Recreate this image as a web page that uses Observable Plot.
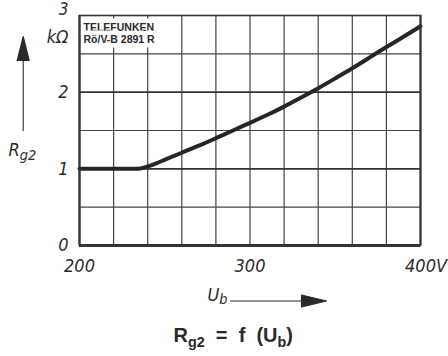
<!DOCTYPE html>
<html>
<head>
<meta charset="utf-8">
<script src="https://cdn.jsdelivr.net/npm/d3@7"></script>
<script src="https://cdn.jsdelivr.net/npm/@observablehq/plot@0.6"></script>
<style>
  html, body { margin: 0; padding: 0; background: #fff; }
  #chart { width: 448px; height: 356px; }
</style>
</head>
<body>
<div id="chart"></div>
<script>
// ---- data ----
const ub = [200, 220, 230, 236, 240, 245, 250, 260, 270, 280, 290, 300, 310, 320, 330, 340, 350, 360, 370, 380, 390, 400];
const rg2 = [1.0, 1.0, 1.0, 1.0, 1.03, 1.07, 1.12, 1.21, 1.30, 1.40, 1.50, 1.60, 1.70, 1.81, 1.93, 2.05, 2.18, 2.31, 2.45, 2.59, 2.72, 2.86];
const xTicks = [200, 300, 400];
const yTicks = [0, 1, 2];
const yTop = [3];
const gridX = [220, 240, 260, 280, 300, 320, 340, 360, 380];
const gridYMinor = [0.5, 1.5, 2.5];
const gridYMajor = [1, 2];
const yUnit = "kΩ";
const xUnit = "V";
const maker = "TELEFUNKEN\nRö/V-B 2891 R";
const yLabel = "R_{g2}";
const xLabel = "U_{b}";
const caption = "R_{g2}  =  f  (U_{b})";

const data = ub.map((u, i) => ({u, r: rg2[i]}));

const narrow = "'Liberation Sans Narrow', 'DejaVu Sans Condensed', 'Liberation Sans', sans-serif";
const ink = "#2a2a2a";

// filled-head arrow shape for Plot.vector
const filledArrow = (hl, hw) => ({
  draw(ctx, l) {
    ctx.moveTo(0, 0);
    ctx.lineTo(0, -l + hl);
    ctx.moveTo(-hw / 2, -l + hl);
    ctx.lineTo(0, -l);
    ctx.lineTo(hw / 2, -l + hl);
    ctx.closePath();
  }
});

const chart = Plot.plot({
  width: 448,
  height: 356,
  marginLeft: 79,
  marginRight: 28,
  marginTop: 15,
  marginBottom: 111,
  x: {domain: [200, 400], axis: null},
  y: {domain: [0, 3], axis: null},
  style: {background: "#fff", color: ink, fontFamily: narrow},
  marks: [
    Plot.ruleX(gridX, {stroke: "#444", strokeWidth: 1.2}),
    Plot.ruleY(gridYMinor, {stroke: "#444", strokeWidth: 1.2}),
    Plot.ruleY(gridYMajor, {stroke: "#333", strokeWidth: 1.8}),
    Plot.text([maker], {
      frameAnchor: "top-left", dx: 4, dy: 7, lineAnchor: "top", textAnchor: "start",
      fontSize: 10.5, fontWeight: "bold", lineHeight: 1.12, fill: ink,
      fontFamily: "'Liberation Sans', 'DejaVu Sans', sans-serif",
      stroke: "#fff", strokeWidth: 9, strokeLinejoin: "round"
    }),
    Plot.line(data, {x: "u", y: "r", stroke: "#262626", strokeWidth: 4, curve: "basis"}),
    Plot.frame({stroke: "#333", strokeWidth: 1.6}),
    Plot.ruleY([0], {stroke: "#333", strokeWidth: 3}),
    Plot.ruleX([200], {stroke: "#333", strokeWidth: 2.2}),
    Plot.ruleX([400], {stroke: "#333", strokeWidth: 2}),
    // y tick labels
    Plot.text(yTicks, {x: 200, y: d => d, text: d => String(d), textAnchor: "end", dx: -11,
      fontSize: 18, fontStyle: "italic", fill: ink}),
    Plot.text(yTop, {x: 200, y: d => d, text: d => String(d), textAnchor: "end", dx: -11, dy: -6,
      fontSize: 17, fontStyle: "italic", fill: ink}),
    Plot.text(yTop, {x: 200, y: d => d, text: () => yUnit, textAnchor: "end", dx: -11, dy: 22,
      fontSize: 18, fontStyle: "italic", fill: ink}),
    // x tick labels
    Plot.text(xTicks, {x: d => d, y: 0, text: d => String(d), dy: 21,
      fontSize: 18, fontStyle: "italic", fill: ink}),
    Plot.text([xTicks[xTicks.length - 1]], {x: d => d, y: 0, text: () => xUnit, textAnchor: "start", dx: 15.5, dy: 21,
      fontSize: 18, fontStyle: "italic", fill: ink}),
    // axis titles with arrows
    Plot.text([yLabel], {frameAnchor: "left", dx: -71, dy: 20, textAnchor: "start",
      fontSize: 18, fontStyle: "italic", fill: ink}),
    Plot.vector([0], {frameAnchor: "left", dx: -56.3, length: 94, rotate: 0, anchor: "start",
      shape: filledArrow(24, 12), stroke: ink, fill: ink, strokeWidth: 1.1}),
    Plot.text([xLabel], {frameAnchor: "bottom", dx: -42.5, dy: 55, textAnchor: "start",
      fontSize: 18, fontStyle: "italic", fill: ink}),
    Plot.vector([0], {frameAnchor: "bottom", dx: -19.5, dy: 55.5, length: 96, rotate: 90, anchor: "start",
      shape: filledArrow(25, 12), stroke: ink, fill: ink, strokeWidth: 1.1}),
    // caption
    Plot.text([caption], {frameAnchor: "bottom", dx: -76.5, dy: 96, textAnchor: "start",
      fontSize: 20, fontWeight: "bold", fill: ink,
      fontFamily: "'Liberation Sans', 'DejaVu Sans', sans-serif"})
  ]
});

document.getElementById("chart").appendChild(chart);

// turn _{...} markers into real subscript tspans
d3.select(chart).selectAll("text").each(function () {
  const t = this.textContent;
  if (!t.includes("_{")) return;
  const fs = parseFloat(getComputedStyle(this).fontSize) || 16;
  const italic = getComputedStyle(this).fontStyle === "italic";
  const sub = fs * (italic ? 0.8 : 0.72);
  const shift = fs * (italic ? 0.2 : 0.28);
  const el = d3.select(this);
  el.text(null);
  let shifted = false;
  t.split(/(_\{[^}]*\})/).forEach(p => {
    if (!p) return;
    if (p.startsWith("_{")) {
      el.append("tspan").attr("font-size", sub).attr("dy", shift).text(p.slice(2, -1));
      shifted = true;
    } else {
      el.append("tspan").attr("dy", shifted ? -shift : null).text(p);
      shifted = false;
    }
  });
});
</script>
</body>
</html>
